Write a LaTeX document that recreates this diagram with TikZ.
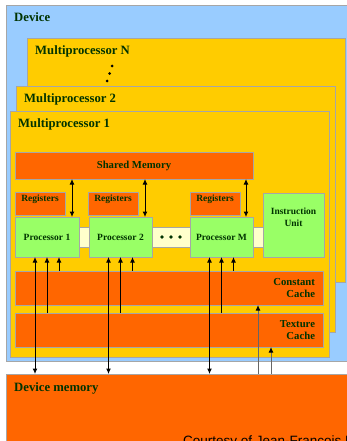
\documentclass[tikz,border=0pt]{standalone}
\usepackage{fontspec}
\setmainfont{Liberation Serif}
\setsansfont{Liberation Sans}
\usetikzlibrary{arrows.meta}
\definecolor{devblue}{HTML}{99CCFF}
\definecolor{mpyellow}{HTML}{FFCC00}
\definecolor{memorange}{HTML}{FF6600}
\definecolor{procgreen}{HTML}{99FF66}
\definecolor{busyellow}{HTML}{FFFFCC}
\definecolor{lblgreen}{HTML}{003300}
\definecolor{edgegray}{HTML}{A6A6A6}
\begin{document}
\begin{tikzpicture}[x=1pt,y=-1pt,>={Latex[length=5.5pt,width=5pt]},
  box/.style={draw=edgegray,line width=0.8pt,inner sep=0pt,outer sep=0pt},
  bigtxt/.style={font=\fontsize{12.7}{15}\selectfont\bfseries,text=lblgreen,inner sep=0pt,anchor=base west},
  smalltxt/.style={font=\fontsize{9.5}{12}\selectfont\bfseries,text=lblgreen},
  midtxt/.style={font=\fontsize{10.7}{12.5}\selectfont\bfseries,text=lblgreen},
  toplbl/.style={smalltxt,anchor=north,inner sep=0pt},
  arr/.style={line width=1pt}]
\useasboundingbox (0,0) rectangle (347,441);
\clip (0,0) rectangle (347,441);
% device and the stacked multiprocessors
\node[box,fill=devblue,minimum width=359pt,minimum height=356pt] (dev) at (185.5,183) {};
\node[bigtxt] (devlbl) at (14,21.5) {Device};
\node[box,fill=mpyellow,minimum width=318pt,minimum height=244pt] (mpN) at (186,160) {};
\node[bigtxt] (mpNlbl) at (35,55) {Multiprocessor N};
\foreach \x/\y in {112/66,109.5/73.5,107/81} \fill (\x,\y) circle (1.5pt);
\node[box,fill=mpyellow,minimum width=319pt,minimum height=246pt] (mp2) at (175.5,209) {};
\node[bigtxt] (mp2lbl) at (24,102.7) {Multiprocessor 2};
\node[box,fill=mpyellow,minimum width=319pt,minimum height=246pt] (mp1) at (169.5,234) {};
\node[bigtxt] (mp1lbl) at (18,127.7) {Multiprocessor 1};
% inside multiprocessor 1
\node[box,fill=memorange,midtxt,minimum width=238pt,minimum height=27pt] (shmem) at (134,165.5) {Shared Memory};
\node[box,fill=busyellow,minimum width=190pt,minimum height=20pt] (bus) at (168,237) {};
\node[box,fill=memorange,minimum width=50pt,minimum height=23pt,label={[toplbl,yshift=-3pt]north:Registers}] (reg1) at (40,203.5) {};
\node[box,fill=memorange,minimum width=50pt,minimum height=23pt,label={[toplbl,yshift=-3pt]north:Registers}] (reg2) at (113,203.5) {};
\node[box,fill=memorange,minimum width=50pt,minimum height=23pt,label={[toplbl,yshift=-3pt]north:Registers}] (regM) at (215,203.5) {};
\node[box,fill=procgreen,smalltxt,minimum width=64pt,minimum height=40pt] (p1) at (47,237) {Processor 1};
\node[box,fill=procgreen,smalltxt,minimum width=63pt,minimum height=40pt] (p2) at (120.5,237) {Processor 2};
\node[box,fill=procgreen,smalltxt,minimum width=63pt,minimum height=40pt] (pM) at (221.5,237) {Processor M};
\foreach \x in {162,171,180} \fill[lblgreen] (\x,237) circle (1.8pt);
\node[box,fill=procgreen,minimum width=61pt,minimum height=64pt,label={[toplbl,align=center,yshift=-15pt]north:Instruction\\Unit}] (iu) at (293.5,225) {};
\node[box,fill=memorange,midtxt,minimum height=34pt,text width=292pt,inner xsep=8pt,align=right] (const) at (169,288) {Constant\\Cache};
\node[box,fill=memorange,midtxt,minimum height=34pt,text width=292pt,inner xsep=8pt,align=right] (tex) at (169,330) {Texture\\Cache};
% device memory
\node[box,fill=memorange,minimum width=359pt,minimum height=96pt] (devmem) at (185.5,422) {};
\node[bigtxt] (devmemlbl) at (14,391) {Device memory};
\node[font=\sffamily\fontsize{13.5}{16}\selectfont,anchor=base west,inner sep=0pt] (credit) at (183,445.7) {Courtesy of Jean-Francois Roy};
% data paths
\foreach \p in {p1,p2,pM}{
  \draw[arr,<->] ([xshift=-7pt]\p.north east) -- ([xshift=-7pt]\p.north east |- shmem.south);
  \draw[arr,<->] ([xshift=-12pt]\p.south) -- ([xshift=-12pt]\p.south |- devmem.north);
  \draw[arr,->] (\p.south |- tex.north) -- (\p.south);
  \draw[arr,->] ([xshift=12pt]\p.south |- const.north) -- ([xshift=12pt]\p.south);
}
\draw[arr,black!60,-{Latex[length=5.5pt,width=5pt,black]}] ([xshift=-65pt]const.south east |- devmem.north) -- ([xshift=-65pt]const.south east);
\draw[arr,black!60,-{Latex[length=5.5pt,width=5pt,black]}] ([xshift=-52pt]tex.south east |- devmem.north) -- ([xshift=-52pt]tex.south east);
\end{tikzpicture}
\end{document}
